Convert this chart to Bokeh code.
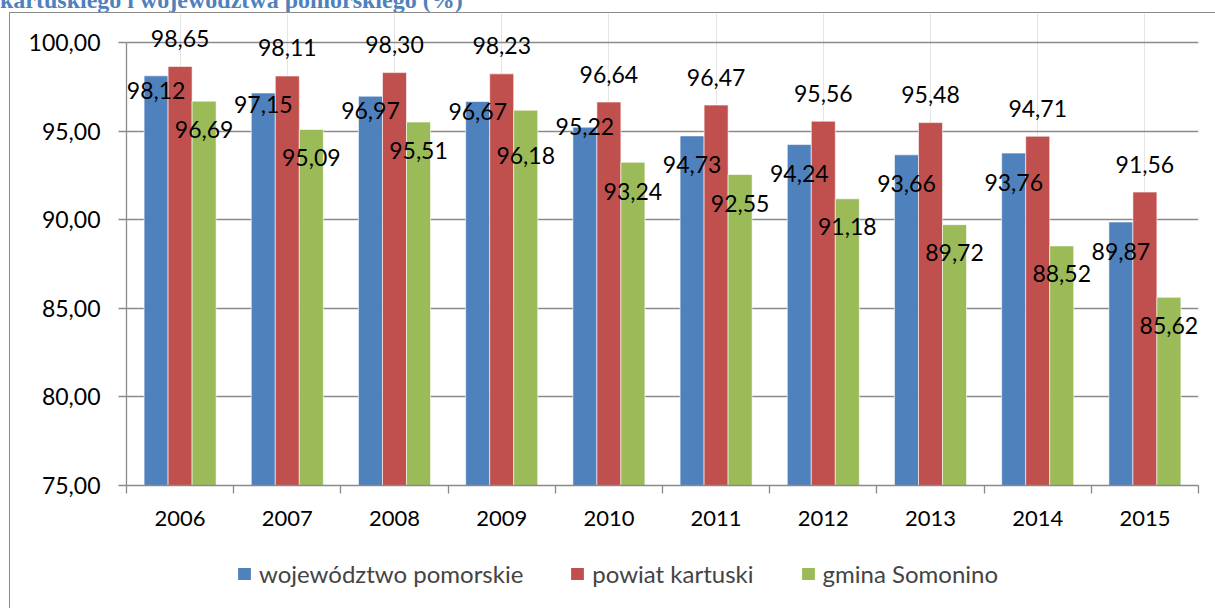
from bokeh.plotting import figure
from bokeh.layouts import column
from bokeh.models import (ColumnDataSource, Range1d, FactorRange, FixedTicker, LinearAxis,
                          CategoricalAxis, Legend, LegendItem, LabelSet, Div,
                          CustomJSTickFormatter)
from bokeh.transform import dodge
from bokeh.core.properties import value
from bokeh.embed import file_html
from bokeh.resources import INLINE

# ---------------- data ----------------
years = ["2006", "2007", "2008", "2009", "2010", "2011", "2012", "2013", "2014", "2015"]
wojewodztwo = [98.12, 97.15, 96.97, 96.67, 95.22, 94.73, 94.24, 93.66, 93.76, 89.87]
powiat = [98.65, 98.11, 98.30, 98.23, 96.64, 96.47, 95.56, 95.48, 94.71, 91.56]
gmina = [96.69, 95.09, 95.51, 96.18, 93.24, 92.55, 91.18, 89.72, 88.52, 85.62]
series_names = ["województwo pomorskie", "powiat kartuski", "gmina Somonino"]
y_ticks = [75, 80, 85, 90, 95, 100]
title_text = "kartuskiego i województwa pomorskiego (%)"

# label nudges in pixels (positive = below bar top), as placed in the original
label_nudge = {
    "woj": [15, 11, 14, 10, -1, 29, 29, 29, 29, 29],
    "pow": [-28] * 10,
    "gmi": [28, 28, 28, 45, 29, 29, 28, 28, 28, 28],
}

# ---------------- style ----------------
COLORS = ["#4F81BD", "#C0504D", "#9BBB59"]
GRAY = "#8A8A8A"
FONT = "Lato"
W = 1215
HEAD_H = 13          # strip holding the cut-off heading and the chart border
H = 522              # chart figure height
LEG_H = 71           # legend strip height
B_L, B_R, B_T, B_B = 126, 17, 0, 50
FRAME_H = H - B_T - B_B
PX_PER_UNIT = 443 / 25          # axis 75..100 spans 443 px
Y0, Y1 = 75, 100
Y_END = Y0 + FRAME_H / PX_PER_UNIT   # headroom above 100 for the value labels

keys = ["woj", "pow", "gmi"]
vals = [wojewodztwo, powiat, gmina]
data = {"years": years}
for k, v in zip(keys, vals):
    data[k] = v
    data[k + "_txt"] = [f"{x:.2f}".replace(".", ",") for x in v]
    data[k + "_ly"] = [x - n / PX_PER_UNIT for x, n in zip(v, label_nudge[k])]
src = ColumnDataSource(data)
xr = FactorRange(factors=years)
offsets = [-0.224, 0.0, 0.224]

p = figure(width=W, height=H, x_range=xr, y_range=Range1d(Y0, Y_END),
           output_backend="svg", toolbar_location=None, x_axis_location=None,
           min_border_left=B_L, min_border_right=B_R, min_border_top=B_T, min_border_bottom=B_B)
p.outline_line_color = None
p.background_fill_color = "white"
p.border_fill_color = None

# y axis
ya = p.yaxis[0]
ya.ticker = FixedTicker(ticks=y_ticks)
ya.bounds = (Y0, Y1)
ya.formatter = CustomJSTickFormatter(code="return tick.toFixed(2).replace('.', ',');")
ya.major_tick_out = 8
ya.major_tick_in = 0
ya.minor_tick_line_color = None
ya.axis_line_color = GRAY
ya.axis_line_width = 1.3
ya.major_tick_line_color = GRAY
ya.major_tick_line_width = 1.3
ya.major_label_text_font = FONT
ya.major_label_text_font_size = "23px"
ya.major_label_text_color = "black"
ya.major_label_standoff = 18
p.ygrid.grid_line_color = GRAY
p.ygrid.grid_line_width = 1.3

# x axis: ticks at category boundaries (synthetic coordinates) + category labels
tick_axis = LinearAxis(ticker=FixedTicker(ticks=list(range(len(years) + 1))),
                       formatter=CustomJSTickFormatter(code="return '';"),
                       major_tick_out=8, major_tick_in=0, minor_tick_line_color=None,
                       major_label_text_font_size="1px", major_label_standoff=0,
                       axis_line_color=GRAY, axis_line_width=1.3,
                       major_tick_line_color=GRAY, major_tick_line_width=1.3)
p.add_layout(tick_axis, "below")
cat_axis = CategoricalAxis(major_tick_line_color=None, axis_line_color=None,
                           major_label_text_font=FONT, major_label_text_font_size="22px",
                           major_label_text_color="black", major_label_standoff=11)
p.add_layout(cat_axis, "below")

# bars + labels
for k, off, col in zip(keys, offsets, COLORS):
    p.vbar(x=dodge("years", off, range=xr), top=k, bottom=Y0, width=0.224,
           source=src, fill_color=col, line_color="white", line_width=0.6)
    p.add_layout(LabelSet(x=dodge("years", off, range=xr), y=k + "_ly", text=k + "_txt",
                          source=src, text_align="center", text_baseline="middle",
                          text_font=value(FONT), text_font_size=value("23px"),
                          text_color=value("black")))

# legend strip: same series drawn into a strip whose y-range lies above the data,
# so only the legend is seen
q = figure(width=W, height=LEG_H, x_range=xr, y_range=Range1d(1000, 1001),
           output_backend="svg", toolbar_location=None, x_axis_location=None,
           y_axis_location=None, min_border=0)
q.outline_line_color = None
q.border_fill_color = None
q.background_fill_color = None
q.grid.visible = False
leg_r = []
for k, off, col in zip(keys, offsets, COLORS):
    leg_r.append(q.vbar(x=dodge("years", off, range=xr), top=k, bottom=Y0, width=0.224,
                        source=src, fill_color=col, line_color=None))
legend = Legend(items=[LegendItem(label=n, renderers=[r]) for n, r in zip(series_names, leg_r)],
                orientation="horizontal", location=(110, 18),
                glyph_width=16, glyph_height=15, label_standoff=7, spacing=46,
                padding=0, margin=0, border_line_color=None, background_fill_alpha=0,
                label_text_font=FONT, label_text_font_size="24px")
q.add_layout(legend)

# cut-off heading above the chart and the chart's outer border
head = Div(
    text=(f'<div style="position:relative;width:{W}px;height:{HEAD_H}px;">'
          f'<div style="position:absolute;left:0px;top:-12px;white-space:nowrap;'
          f'font-family:\'Liberation Serif\';font-weight:bold;font-size:24px;line-height:24px;'
          f'color:#4F81BD;">{title_text}</div>'
          f'<div style="position:absolute;left:9px;top:12px;width:{W}px;height:700px;'
          f'border-top:1.3px solid {GRAY};border-left:1.3px solid {GRAY};"></div></div>'),
    width=W, height=HEAD_H, margin=0)

layout = column(head, p, q, spacing=0)
open("out.html", "w").write(file_html(layout, INLINE))
